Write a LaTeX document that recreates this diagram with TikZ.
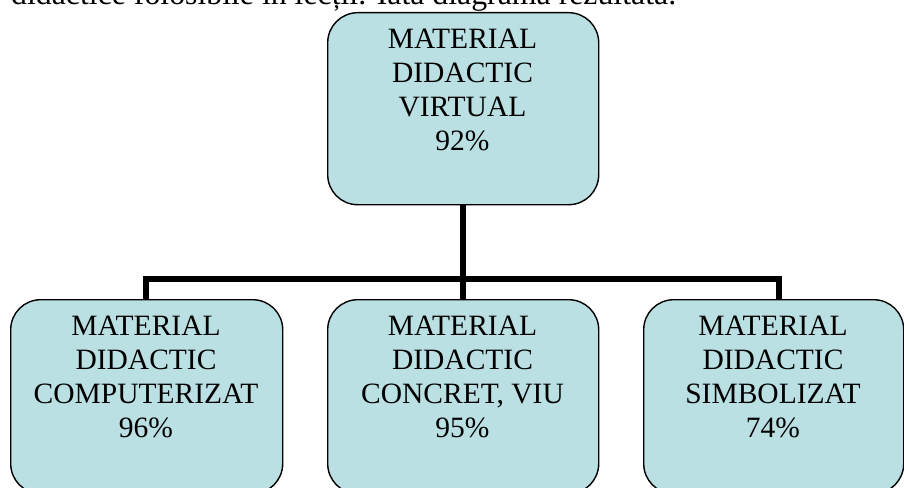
\documentclass[tikz,border=0pt]{standalone}
\usepackage{fontspec}
\setmainfont{Liberation Serif}
\definecolor{boxfill}{RGB}{186,224,227}
\begin{document}
\begin{tikzpicture}[x=1pt,y=-1pt,
  box/.style={draw=black, line width=1.4pt, fill=boxfill, rounded corners=30pt,
    inner sep=0pt, anchor=north west},
  txt/.style={align=center, inner sep=0pt, anchor=north,
    font=\fontsize{29.5}{34}\selectfont},
  conn/.style={line width=5.5pt, black}]
\useasboundingbox (0,0) rectangle (904,487);
\clip (0,0) rectangle (904,487);
\node[anchor=base west, inner sep=0pt, font=\fontsize{31.8}{36}\selectfont] (intro) at (11,4.5) {didactice folosibile în lecții. Iată diagrama rezultată.};
\node[box, minimum width=271pt, minimum height=192pt] (top) at (327,12) {};
\node[box, minimum width=272pt, minimum height=194pt] (left) at (10,299) {};
\node[box, minimum width=271pt, minimum height=194pt] (mid) at (327,299) {};
\node[box, minimum width=260pt, minimum height=194pt] (right) at (643,299) {};
\node[txt] (toptxt) at (462.5,28.5) {MATERIAL\\DIDACTIC\\VIRTUAL\\92\%};
\node[txt] (lefttxt) at (146,316) {MATERIAL\\DIDACTIC\\COMPUTERIZAT\\96\%};
\node[txt] (midtxt) at (462.5,316) {MATERIAL\\DIDACTIC\\CONCRET, VIU\\95\%};
\node[txt] (righttxt) at (773,316) {MATERIAL\\DIDACTIC\\SIMBOLIZAT\\74\%};
\coordinate (bus) at (463,279);
\coordinate (busL) at (146,279);
\coordinate (busR) at (779,279);
\draw[conn] (top.south -| bus) -- (mid.north -| bus);
\draw[conn] (left.north -| busL) -- (busL) -- (busR) -- (right.north -| busR);
\end{tikzpicture}
\end{document}
